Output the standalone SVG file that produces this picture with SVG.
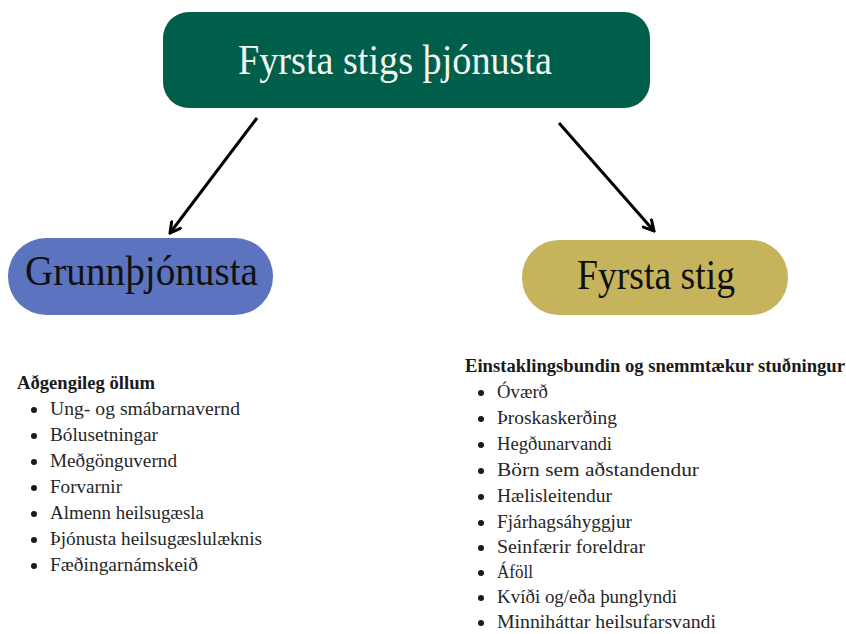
<svg xmlns="http://www.w3.org/2000/svg" width="846" height="634" viewBox="0 0 846 634">
<style>
.t{font-family:"Liberation Serif","DejaVu Serif",serif}
.big{font-size:42px}
.hd{font-size:18.5px;font-weight:bold;fill:#1a1a1a}
.it{font-size:18.5px;fill:#262626}
.bul{fill:#1a1a1a}
.conn{stroke:#000;stroke-width:3;fill:none;marker-end:url(#arr)}
</style>
<defs>
<marker id="arr" viewBox="0 0 14 14" refX="12" refY="7" markerWidth="14" markerHeight="14" markerUnits="userSpaceOnUse" orient="auto">
<path d="M2,1.5 L12,7 L2,12.5" fill="none" stroke="#000" stroke-width="3" stroke-linecap="round" stroke-linejoin="miter"/>
</marker>
</defs>
<rect width="846" height="634" fill="#fff"/>
<g id="connectors">
<line class="conn" x1="257" y1="118" x2="170" y2="233"/>
<line class="conn" x1="559" y1="123" x2="654" y2="231"/>
</g>
<g id="top">
<rect x="163" y="12" width="487" height="96" rx="26" fill="#005f4b"/>
<text class="t big" x="238" y="74" fill="#f4f4ee" textLength="314" lengthAdjust="spacingAndGlyphs">Fyrsta stigs þjónusta</text>
</g>
<g id="grunn">
<rect x="8" y="238" width="265" height="77" rx="38" fill="#5c74bf"/>
<text class="t big" x="25" y="285" fill="#111" textLength="233" lengthAdjust="spacingAndGlyphs">Grunnþjónusta</text>
</g>
<g id="fyrsta">
<rect x="522" y="240" width="266" height="75" rx="37" fill="#c5b45b"/>
<text class="t big" x="577" y="289" fill="#111" textLength="158" lengthAdjust="spacingAndGlyphs">Fyrsta stig</text>
</g>
<g id="left-list">
<text class="t hd" x="17" y="389" textLength="138" lengthAdjust="spacingAndGlyphs">Aðgengileg öllum</text>
<circle class="bul" cx="34" cy="410" r="3"/>
<circle class="bul" cx="34" cy="436" r="3"/>
<circle class="bul" cx="34" cy="462" r="3"/>
<circle class="bul" cx="34" cy="488" r="3"/>
<circle class="bul" cx="34" cy="514" r="3"/>
<circle class="bul" cx="34" cy="540" r="3"/>
<circle class="bul" cx="34" cy="566" r="3"/>
<text class="t it" x="50" y="415" textLength="190" lengthAdjust="spacingAndGlyphs">Ung- og smábarnavernd</text>
<text class="t it" x="50" y="441" textLength="108" lengthAdjust="spacingAndGlyphs">Bólusetningar</text>
<text class="t it" x="50" y="467" textLength="127" lengthAdjust="spacingAndGlyphs">Meðgönguvernd</text>
<text class="t it" x="50" y="493" textLength="72" lengthAdjust="spacingAndGlyphs">Forvarnir</text>
<text class="t it" x="50" y="519" textLength="154" lengthAdjust="spacingAndGlyphs">Almenn heilsugæsla</text>
<text class="t it" x="50" y="545" textLength="212" lengthAdjust="spacingAndGlyphs">Þjónusta heilsugæslulæknis</text>
<text class="t it" x="50" y="571" textLength="148" lengthAdjust="spacingAndGlyphs">Fæðingarnámskeið</text>
</g>
<g id="right-list">
<text class="t hd" x="465" y="372" textLength="380" lengthAdjust="spacingAndGlyphs">Einstaklingsbundin og snemmtækur stuðningur</text>
<circle class="bul" cx="481" cy="393" r="3"/>
<circle class="bul" cx="481" cy="419" r="3"/>
<circle class="bul" cx="481" cy="445" r="3"/>
<circle class="bul" cx="481" cy="471" r="3"/>
<circle class="bul" cx="481" cy="497" r="3"/>
<circle class="bul" cx="481" cy="523" r="3"/>
<circle class="bul" cx="481" cy="548" r="3"/>
<circle class="bul" cx="481" cy="573" r="3"/>
<circle class="bul" cx="481" cy="598" r="3"/>
<circle class="bul" cx="481" cy="623" r="3"/>
<text class="t it" x="497" y="398" textLength="51" lengthAdjust="spacingAndGlyphs">Óværð</text>
<text class="t it" x="497" y="424" textLength="120" lengthAdjust="spacingAndGlyphs">Þroskaskerðing</text>
<text class="t it" x="497" y="450" textLength="115" lengthAdjust="spacingAndGlyphs">Hegðunarvandi</text>
<text class="t it" x="497" y="476" textLength="202" lengthAdjust="spacingAndGlyphs">Börn sem aðstandendur</text>
<text class="t it" x="497" y="502" textLength="115" lengthAdjust="spacingAndGlyphs">Hælisleitendur</text>
<text class="t it" x="497" y="528" textLength="135" lengthAdjust="spacingAndGlyphs">Fjárhagsáhyggjur</text>
<text class="t it" x="497" y="553" textLength="148" lengthAdjust="spacingAndGlyphs">Seinfærir foreldrar</text>
<text class="t it" x="497" y="578" textLength="36" lengthAdjust="spacingAndGlyphs">Áföll</text>
<text class="t it" x="497" y="603" textLength="180" lengthAdjust="spacingAndGlyphs">Kvíði og/eða þunglyndi</text>
<text class="t it" x="497" y="628" textLength="219" lengthAdjust="spacingAndGlyphs">Minniháttar heilsufarsvandi</text>
</g>
</svg>
